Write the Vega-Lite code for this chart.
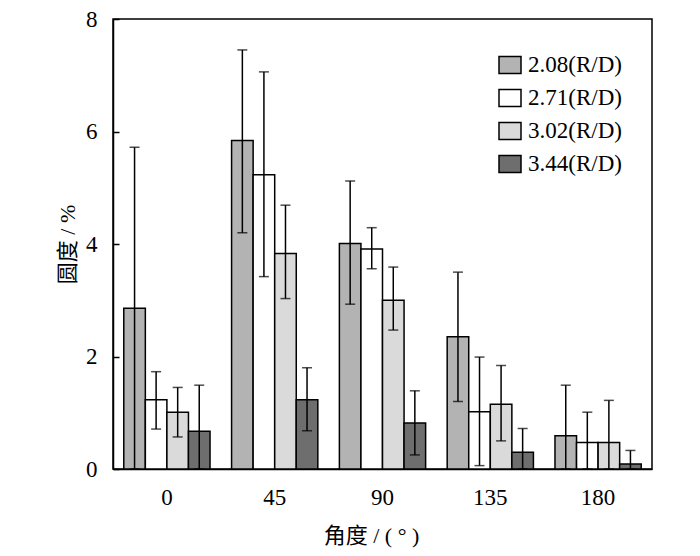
{
  "$schema": "https://vega.github.io/schema/vega-lite/v6.json",
  "description": "Roundness by angle for four R/D ratios, with error bars",
  "width": 539,
  "height": 450,
  "autosize": "none",
  "padding": {"left": 113, "top": 19, "right": 48, "bottom": 87},
  "config": {
    "font": "Liberation Serif",
    "view": {"stroke": "black", "strokeWidth": 1.5},
    "axis": {
      "domainColor": "black",
      "domainWidth": 1.5,
      "tickColor": "black",
      "tickWidth": 1.5,
      "labelColor": "black",
      "titleColor": "black",
      "labelFont": "Liberation Serif",
      "titleFont": "Liberation Serif, Noto Sans CJK SC",
      "labelFontSize": 23,
      "titleFontSize": 22,
      "titleFontWeight": "normal",
      "grid": false
    },
    "legend": {
      "labelFont": "Liberation Serif",
      "labelFontSize": 23,
      "labelColor": "black"
    }
  },
  "data": {
    "values": [
      {"angle": "0", "series": "2.08(R/D)", "mean": 2.86, "lo": 0.0, "hi": 5.72},
      {"angle": "0", "series": "2.71(R/D)", "mean": 1.23, "lo": 0.71, "hi": 1.73},
      {"angle": "0", "series": "3.02(R/D)", "mean": 1.01, "lo": 0.57, "hi": 1.45},
      {"angle": "0", "series": "3.44(R/D)", "mean": 0.67, "lo": 0.0, "hi": 1.49},
      {"angle": "45", "series": "2.08(R/D)", "mean": 5.84, "lo": 4.2, "hi": 7.45},
      {"angle": "45", "series": "2.71(R/D)", "mean": 5.23, "lo": 3.42, "hi": 7.06},
      {"angle": "45", "series": "3.02(R/D)", "mean": 3.83, "lo": 3.03, "hi": 4.69},
      {"angle": "45", "series": "3.44(R/D)", "mean": 1.23, "lo": 0.68, "hi": 1.8},
      {"angle": "90", "series": "2.08(R/D)", "mean": 4.01, "lo": 2.93, "hi": 5.12},
      {"angle": "90", "series": "2.71(R/D)", "mean": 3.91, "lo": 3.56, "hi": 4.29},
      {"angle": "90", "series": "3.02(R/D)", "mean": 3.0, "lo": 2.47, "hi": 3.59},
      {"angle": "90", "series": "3.44(R/D)", "mean": 0.82, "lo": 0.25, "hi": 1.39},
      {"angle": "135", "series": "2.08(R/D)", "mean": 2.35, "lo": 1.2, "hi": 3.5},
      {"angle": "135", "series": "2.71(R/D)", "mean": 1.02, "lo": 0.06, "hi": 1.99},
      {"angle": "135", "series": "3.02(R/D)", "mean": 1.15, "lo": 0.5, "hi": 1.84},
      {"angle": "135", "series": "3.44(R/D)", "mean": 0.3, "lo": 0.0, "hi": 0.72},
      {"angle": "180", "series": "2.08(R/D)", "mean": 0.59, "lo": 0.0, "hi": 1.49},
      {"angle": "180", "series": "2.71(R/D)", "mean": 0.47, "lo": 0.0, "hi": 1.01},
      {"angle": "180", "series": "3.02(R/D)", "mean": 0.47, "lo": 0.0, "hi": 1.22},
      {"angle": "180", "series": "3.44(R/D)", "mean": 0.09, "lo": 0.0, "hi": 0.33}
    ]
  },
  "encoding": {
    "x": {
      "field": "angle",
      "type": "nominal",
      "sort": ["0", "45", "90", "135", "180"],
      "scale": {"paddingInner": 0.2, "paddingOuter": 0.1},
      "axis": {
        "title": "角度 / ( ° )",
        "labelAngle": 0,
        "ticks": false,
        "labelPadding": 17,
        "titlePadding": 16,
        "titleX": 258
      }
    },
    "xOffset": {
      "field": "series",
      "type": "nominal",
      "sort": ["2.08(R/D)", "2.71(R/D)", "3.02(R/D)", "3.44(R/D)"]
    }
  },
  "layer": [
    {
      "mark": {"type": "bar", "stroke": "black", "strokeWidth": 1.5},
      "encoding": {
        "y": {
          "field": "mean",
          "type": "quantitative",
          "scale": {"domain": [0, 8]},
          "axis": {
            "title": "圆度 / %",
            "values": [0, 2, 4, 6, 8],
            "format": "d",
            "tickSize": -6,
            "labelPadding": 22,
            "titlePadding": 6
          }
        },
        "fill": {
          "field": "series",
          "type": "nominal",
          "sort": ["2.08(R/D)", "2.71(R/D)", "3.02(R/D)", "3.44(R/D)"],
          "scale": {"range": ["#b3b3b3", "#ffffff", "#dadada", "#6e6e6e"]},
          "legend": {
            "title": null,
            "orient": "none",
            "legendX": 385,
            "legendY": 34,
            "padding": 0,
            "symbolType": "M-1,-0.77H1V0.77H-1Z",
            "symbolSize": 484,
            "symbolStrokeColor": "black",
            "symbolStrokeWidth": 1.5,
            "symbolOpacity": 1,
            "labelOffset": 6,
            "rowPadding": 9
          }
        }
      }
    },
    {
      "mark": {"type": "rule", "color": "black", "strokeWidth": 1.5},
      "encoding": {
        "y": {"field": "lo", "type": "quantitative"},
        "y2": {"field": "hi"}
      }
    },
    {
      "mark": {"type": "tick", "color": "black", "thickness": 1.5, "size": 10},
      "encoding": {
        "y": {"field": "hi", "type": "quantitative"}
      }
    },
    {
      "mark": {"type": "tick", "color": "black", "thickness": 1.5, "size": 10},
      "encoding": {
        "y": {"field": "lo", "type": "quantitative"}
      }
    }
  ]
}
